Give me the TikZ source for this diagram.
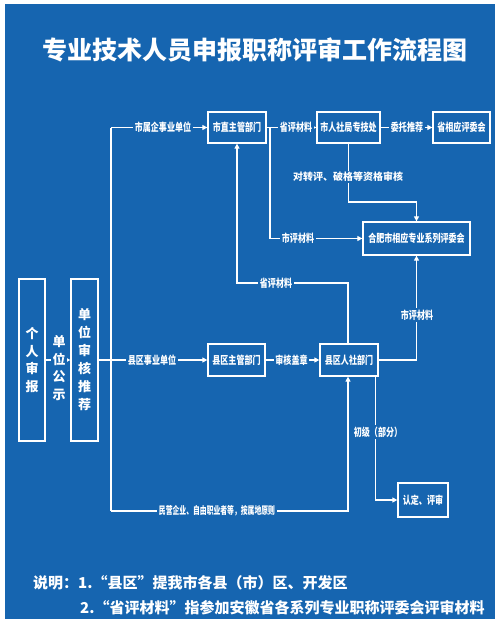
\documentclass[tikz,border=0pt]{standalone}
\usepackage{fontspec}
\usetikzlibrary{arrows.meta,positioning}
\newfontfamily\cjk{Noto Sans CJK SC}
\newfontfamily\cjkn{Noto Sans CJK SC}[FakeStretch=0.73]
\newfontfamily\cjkc{Noto Sans CJK SC}[FakeStretch=0.65]
\definecolor{bgblue}{RGB}{22,101,176}

\begin{document}
\begin{tikzpicture}[x=1pt,y=-1pt,
    box/.style={draw=white, line width=1.3pt, inner sep=0pt, text=white,
      minimum height=31pt, font=\cjkn\bfseries\fontsize{11}{13}\selectfont},
    tall/.style={box, minimum height=162pt, align=center,
      font=\cjk\bfseries\fontsize{13}{17.5}\selectfont},
    lbl/.style={fill=bgblue, text=white, inner sep=1.5pt,
      font=\cjkn\bfseries\fontsize{11}{13}\selectfont},
    link/.style={draw=white, line width=1.3pt},
    arr/.style={link, -{Triangle[length=5pt,width=5pt]}}]
    % Background
    \useasboundingbox (0,0) rectangle (501,619);
    \fill[white] (0,0) rectangle (501,619);
    \fill[bgblue] (5,4) rectangle (495,619);

    % Title
    \node[text=white, font=\cjk\bfseries\fontsize{25}{30}\selectfont] (title) at (255,50) {专业技术人员申报职称评审工作流程图};

    % Boxes
    \node[tall, minimum width=26pt] (ind) at (32,360) {个\\人\\审\\报};
    \node[tall, minimum width=27pt, font=\cjk\bfseries\fontsize{13}{18}\selectfont] (unit) at (84.5,360) {单\\位\\审\\核\\推\\荐};
    \node[box, minimum width=58pt] (szg) at (237,127.5) {市直主管部门};
    \node[box, minimum width=63pt] (srs) at (348.5,127.5) {市人社局专技处};
    \node[box, minimum width=57pt] (sxy) at (461.5,127.5) {省相应评委会};
    \node[box, minimum width=107pt, minimum height=33pt] (hf) at (416.5,238.5) {合肥市相应专业系列评委会};
    \node[box, minimum width=57pt, minimum height=32pt] (xzg) at (236.5,360) {县区主管部门};
    \node[box, minimum width=58pt, minimum height=32pt] (xrs) at (349,360) {县区人社部门};
    \node[box, minimum width=50pt, minimum height=34pt] (rd) at (423,500) {认定、评审};

    % Junction points
    \coordinate (trunk) at (111,360);
    \coordinate (ttop) at (111,127.5);
    \coordinate (tbot) at (111,511);
    \coordinate (rbot) at (348,511);
    \coordinate (split) at (270,127.5);
    \coordinate (hfl) at (270,238.5);
    \coordinate (chk) at (348.5,202);
    \coordinate (chkr) at (416.5,202);
    \coordinate (up1) at (348,283);
    \coordinate (up2) at (237,283);
    \coordinate (cr) at (416.5,360);
    \coordinate (dn) at ([xshift=-3pt]xrs.south east);
    \coordinate (dnb) at (dn |- rd.west);

    % Connectors
    \draw[arr] (ind) -- (unit);
    \draw[link] (unit) -- (trunk);
    \draw[link] (ttop) -- (tbot);
    \draw[arr] (trunk) -- (xzg);
    \draw[arr] (ttop) -- (szg);
    \draw[arr] (tbot) -- (rbot) -- (xrs.south -| rbot);
    \draw[arr] (szg) -- (srs);
    \draw[arr] (split) -- (hfl) -- (hf);
    \draw[arr] (srs) -- (sxy);
    \draw[arr] (srs.south) -- (chk) -- (chkr) -- (hf);
    \draw[arr] (xrs.north -| up1) -- (up1) -- (up2) -- (szg);
    \draw[arr] (xzg) -- (xrs);
    \draw[arr] (xrs) -- (cr) -- (hf);
    \draw[arr] (dn) -- (dnb) -- (rd);

    % Labels on connectors
    \node[lbl, align=center, font=\cjk\bfseries\fontsize{13}{17.5}\selectfont] (gs) at (59,368) {单\\位\\公\\示};
    \node[lbl] (l1) at (163,127.5) {市属企事业单位};
    \node[lbl] (l2) at (296,127.5) {省评材料};
    \node[lbl] (l3) at (407,127.5) {委托推荐};
    \node[lbl, font=\cjk\bfseries\fontsize{10}{12}\selectfont] (l4) at (348,177) {对转评、破格等资格审核};
    \node[lbl] (l5) at (298,238.5) {市评材料};
    \node[lbl] (l6) at (276,283) {省评材料};
    \node[lbl] (l7) at (417,315) {市评材料};
    \node[lbl] (l8) at (152,360) {县区事业单位};
    \node[lbl] (l9) at (291.5,360) {审核盖章};
    \node[lbl] (l10) at (378,432) {初级（部分）};
    \node[lbl, font=\cjkc\bfseries\fontsize{10.5}{12}\selectfont] (l11) at (217,511) {民营企业、自由职业者等，按属地原则};

    % Notes
    \node[anchor=west, text=white, inner sep=0pt, font=\cjk\bfseries\fontsize{15}{18}\selectfont] (n1) at (33,583) {说明：1.“县区”提我市各县（市）区、开发区};
    \node[anchor=west, text=white, inner sep=0pt, font=\cjk\bfseries\fontsize{15}{18}\selectfont] (n2) at (80,608) {2.“省评材料”指参加安徽省各系列专业职称评委会评审材料};
\end{tikzpicture}
\end{document}
